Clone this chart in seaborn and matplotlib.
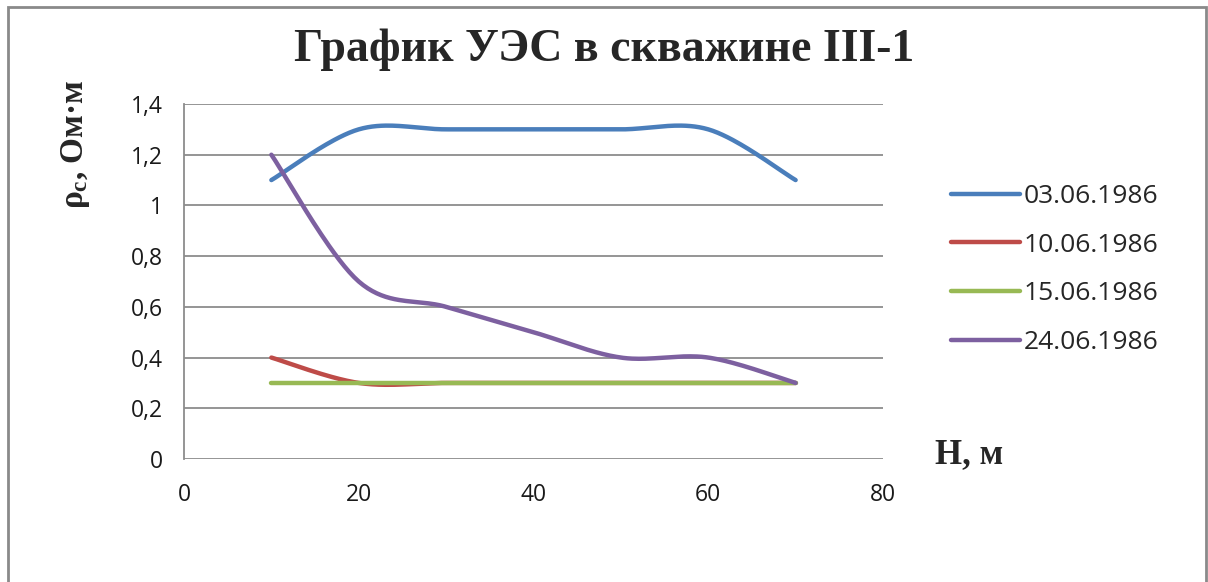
import numpy as np
import pandas as pd
import matplotlib
matplotlib.use("Agg")
import matplotlib.pyplot as plt
import matplotlib.patches as mpatches
import seaborn as sns

# Depth, m
depth = [10, 20, 30, 40, 50, 60, 70]
# Apparent resistivity, Ohm*m, per survey date
rho_0306 = [1.1, 1.3, 1.3, 1.3, 1.3, 1.3, 1.1]
rho_1006 = [0.4, 0.3, 0.3, 0.3, 0.3, 0.3, 0.3]
rho_1506 = [0.3, 0.3, 0.3, 0.3, 0.3, 0.3, 0.3]
rho_2406 = [1.2, 0.7, 0.6, 0.5, 0.4, 0.4, 0.3]
dates = ["03.06.1986", "10.06.1986", "15.06.1986", "24.06.1986"]
colors = ["#4A7EBB", "#BE4B48", "#98B954", "#7D60A0"]
x_ticks = [0, 20, 40, 60, 80]
y_ticks = [0, 0.2, 0.4, 0.6, 0.8, 1.0, 1.2, 1.4]


def smooth(x, y, n=40):
    """Catmull-Rom spline through the points (spreadsheet-style smoothed line)."""
    x = np.asarray(x, float)
    y = np.asarray(y, float)
    px = np.concatenate([[x[0]], x, [x[-1]]])
    py = np.concatenate([[y[0]], y, [y[-1]]])
    xs, ys = [], []
    t = np.linspace(0, 1, n)
    for i in range(1, len(px) - 2):
        p0, p1, p2, p3 = [np.array([px[j], py[j]]) for j in (i - 1, i, i + 1, i + 2)]
        c1 = p1 + (p2 - p0) / 6
        c2 = p2 - (p3 - p1) / 6
        seg = ((1 - t) ** 3)[:, None] * p1 + (3 * (1 - t) ** 2 * t)[:, None] * c1 \
            + (3 * (1 - t) * t ** 2)[:, None] * c2 + (t ** 3)[:, None] * p2
        if i > 1:
            seg = seg[1:]
        xs.extend(seg[:, 0])
        ys.extend(seg[:, 1])
    return np.array(xs), np.array(ys)


frames = []
for name, vals in zip(dates, [rho_0306, rho_1006, rho_1506, rho_2406]):
    sx, sy = smooth(depth, vals)
    frames.append(pd.DataFrame({"H": sx, "rho": sy, "date": name}))
df = pd.concat(frames, ignore_index=True)

sns.set_theme(style="white")
plt.rcParams["font.family"] = ["Open Sans", "DejaVu Sans"]
plt.rcParams["mathtext.fontset"] = "custom"
plt.rcParams["mathtext.rm"] = "Liberation Serif:bold"
plt.rcParams["mathtext.it"] = "Liberation Serif:bold"
plt.rcParams["mathtext.bf"] = "Liberation Serif:bold"

W, H = 1208, 582
fig = plt.figure(figsize=(W / 100, H / 100), dpi=100)
ax = fig.add_axes([184 / W, 1 - 459 / H, (883 - 184) / W, (459 - 104) / H])

sns.lineplot(data=df, x="H", y="rho", hue="date", palette=dict(zip(dates, colors)),
             sort=False, estimator=None, units="date", lw=3.2, ax=ax, legend=False)

ax.set_xlim(0, 80)
ax.set_ylim(0, 1.4)
ax.set_xticks(x_ticks)
ax.set_yticks(y_ticks)
ax.set_xticklabels([str(v) for v in x_ticks])
ax.set_yticklabels([f"{v:g}".replace(".", ",") for v in y_ticks])
ax.tick_params(axis="both", length=0, labelsize=16.5, colors="#1a1a1a")
ax.tick_params(axis="y", pad=15)
ax.tick_params(axis="x", pad=17)
ax.yaxis.grid(True, color="#8C8C8C", lw=1.3)
ax.set_axisbelow(True)
for side in ("top", "right", "bottom"):
    ax.spines[side].set_visible(False)
ax.spines["left"].set_color("#8C8C8C")
ax.spines["left"].set_linewidth(1.3)
ax.set_xlabel("")
ax.set_ylabel("")

fig.text(604 / W, 1 - 50 / H, "График УЭС в скважине III-1", ha="center", va="center",
         family="Liberation Serif", weight="bold", fontsize=33)
fig.text(935 / W, 1 - 455 / H, "H, м", ha="left", va="center",
         family="Liberation Serif", weight="bold", fontsize=25)
fig.text(75 / W, 1 - 80 / H, r"$\rho_{c}$, Ом·м", ha="center", va="top", rotation=90,
         family="Liberation Serif", weight="bold", fontsize=24)

handles = [plt.Line2D([], [], color=c, lw=3.2) for c in colors]
fig.legend(handles, dates, loc="center left", bbox_to_anchor=(951 / W, 1 - 269.5 / H),
           bbox_transform=fig.transFigure, frameon=False, fontsize=19,
           handlelength=2.6, handletextpad=0.15, labelspacing=0.9,
           borderpad=0, borderaxespad=0)

fig.patches.append(mpatches.Rectangle((8 / W, -0.05), (1206 - 8) / W, 1 - 7 / H + 0.05,
                                      transform=fig.transFigure, fill=False,
                                      edgecolor="#8A8A8A", lw=2))

fig.savefig("out.png", dpi=100)
